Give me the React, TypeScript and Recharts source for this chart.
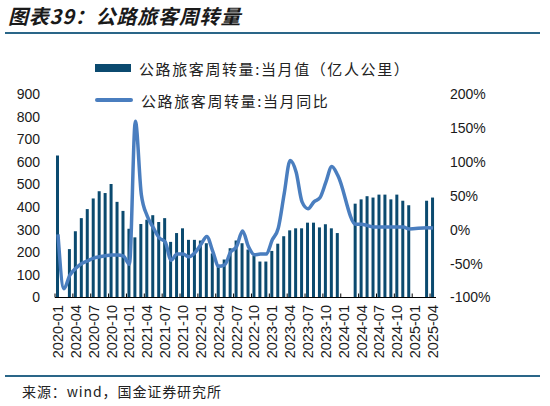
import React from 'react';
import { ComposedChart, Bar, Line, XAxis, YAxis, Legend } from 'recharts';

const months = [
  '2020-01','2020-02','2020-03','2020-04','2020-05','2020-06','2020-07','2020-08','2020-09','2020-10','2020-11','2020-12',
  '2021-01','2021-02','2021-03','2021-04','2021-05','2021-06','2021-07','2021-08','2021-09','2021-10','2021-11','2021-12',
  '2022-01','2022-02','2022-03','2022-04','2022-05','2022-06','2022-07','2022-08','2022-09','2022-10','2022-11','2022-12',
  '2023-01','2023-02','2023-03','2023-04','2023-05','2023-06','2023-07','2023-08','2023-09','2023-10','2023-11','2023-12',
  '2024-01','2024-02','2024-03','2024-04','2024-05','2024-06','2024-07','2024-08','2024-09','2024-10','2024-11','2024-12',
  '2025-01','2025-02','2025-03','2025-04',
];

// 公路旅客周转量:当月值（亿人公里）
const monthlyValue: (number | null)[] = [
  628, null, 214, 293, 351, 391, 438, 470, 462, 502, 423, 383,
  304, 266, 325, 344, 364, 334, 351, 246, 285, 306, 255, 255,
  252, 240, 195, 145, 168, 218, 252, 240, 212, 184, 159, 159,
  206, 238, 271, 297, 306, 306, 331, 331, 310, 324, 306, 285,
  null, null, 415, 434, 448, 442, 455, 455, 434, 455, 428, 408,
  null, null, 428, 442,
];

// 公路旅客周转量:当月同比（%）
const yoyPct: (number | null)[] = [
  -7, -87, -67, -57, -50, -46, -42, -40, -38.5, -37.5, -37.5, -39,
  -51, 160, 52, 20, 3, -12, -18, -45, -36, -36, -40, -34,
  -22, -10, -32, -54, -52, -33, -25, -2, -25, -37, -36, -36,
  -15, 2, 53, 102, 85, 41, 31, 41, 47, 70, 93, 80,
  null, null, 8, 8, 6, 4, 4, 4, 4, 4, 4, 1,
  null, null, 3, 2.5,
];

const leftTicks = [0, 100, 200, 300, 400, 500, 600, 700, 800, 900];
const rightTicks = [-100, -50, 0, 50, 100, 150, 200];

const seriesBarName = '公路旅客周转量:当月值（亿人公里）';
const seriesLineName = '公路旅客周转量:当月同比';
const titleText = '图表39：公路旅客周转量';
const sourceText = '来源：wind，国金证券研究所';

const data = months.map((m, i) => ({ month: m, value: monthlyValue[i], yoy: yoyPct[i] }));

const W = 550;
const H = 406;
const PLOT_LEFT = 55;
const PLOT_RIGHT = 436;
const PLOT_TOP = 94;
const PLOT_BOTTOM = 297.5;
const X_AXIS_H = 70;

const BAR_COLOR = '#0b4a6f';
const LINE_COLOR = '#4a7ebf';
const RULE_COLOR = '#2a6688';
const TEXT_COLOR = '#1a1a1a';
const NUM_FONT = '"Liberation Sans", Arial, sans-serif';
const CJK_FONT = '"Noto Sans CJK SC", "Noto Sans", sans-serif';

const XTick = (props: any) => {
  const { x, payload } = props;
  const band = (PLOT_RIGHT - PLOT_LEFT) / months.length;
  const bx = x - band / 2;
  return (
    <g>
      <line x1={bx} x2={bx} y1={PLOT_BOTTOM} y2={PLOT_BOTTOM - 4} stroke="#000" strokeWidth={1} />
      <text
        transform={`translate(${x + 5},${PLOT_BOTTOM + 7.5}) rotate(-90)`}
        textAnchor="end"
        fontSize={14.5}
        fontFamily={NUM_FONT}
        fill={TEXT_COLOR}
      >
        {payload.value}
      </text>
    </g>
  );
};

const LegendContent = (props: any) => {
  const { payload } = props;
  return (
    <div style={{ position: 'relative', width: 420, height: 50 }}>
      {(payload || []).map((entry: any, i: number) => (
        <div
          key={i}
          style={{
            position: 'absolute',
            left: 0,
            top: i * 32,
            height: 20,
            display: 'flex',
            alignItems: 'center',
            whiteSpace: 'nowrap',
          }}
        >
          {entry.type === 'line' ? (
            <div style={{ width: 38, height: 4, background: entry.color, borderRadius: 2 }} />
          ) : (
            <div style={{ width: 36, height: 8, background: entry.color }} />
          )}
          <span
            style={{
              marginLeft: 8,
              fontSize: 15,
              letterSpacing: 1.6,
              fontFamily: CJK_FONT,
              color: '#222',
            }}
          >
            {entry.value}
          </span>
        </div>
      ))}
    </div>
  );
};

export default function App() {
  return (
    <div style={{ position: 'absolute', left: 0, top: 0, width: W, height: H, background: '#fff', overflow: 'hidden' }}>
      <div
        style={{
          position: 'absolute',
          left: 8,
          top: 3,
          fontSize: 20,
          fontWeight: 700,
          fontStyle: 'italic',
          fontFamily: CJK_FONT,
          color: TEXT_COLOR,
          letterSpacing: 0.8,
          whiteSpace: 'nowrap',
          lineHeight: '26px',
        }}
      >
        {titleText}
      </div>
      <div style={{ position: 'absolute', left: 5, top: 32, width: 535, height: 1.5, background: RULE_COLOR }} />
      <ComposedChart
        width={W}
        height={H}
        data={data}
        margin={{ top: PLOT_TOP, right: 0, left: 0, bottom: H - PLOT_BOTTOM - X_AXIS_H }}
        style={{ fontFamily: NUM_FONT }}
      >
        <XAxis
          dataKey="month"
          interval={2}
          height={X_AXIS_H}
          axisLine={{ stroke: '#000', strokeWidth: 1 }}
          tickLine={false}
          tick={<XTick />}
        />
        <YAxis
          yAxisId="left"
          orientation="left"
          width={PLOT_LEFT}
          domain={[0, 900]}
          ticks={leftTicks}
          interval={0}
          axisLine={false}
          tickLine={false}
          tickSize={0}
          tickMargin={15}
          tick={{ fontSize: 14, fill: TEXT_COLOR, fontFamily: NUM_FONT }}
        />
        <YAxis
          yAxisId="right"
          orientation="right"
          width={W - PLOT_RIGHT}
          domain={[-100, 200]}
          ticks={rightTicks}
          interval={0}
          axisLine={false}
          tickLine={false}
          tickSize={0}
          tickMargin={14}
          tickFormatter={(v: number) => `${v}%`}
          tick={{ fontSize: 14, fill: TEXT_COLOR, fontFamily: NUM_FONT, textAnchor: 'start' }}
        />
        <Legend
          layout="horizontal"
          align="center"
          verticalAlign="middle"
          content={<LegendContent />}
          wrapperStyle={{ left: 95, top: 58, width: 420, height: 50 }}
        />
        <Bar
          yAxisId="left"
          dataKey="value"
          name={seriesBarName}
          fill={BAR_COLOR}
          barSize={3}
          isAnimationActive={false}
        />
        <Line
          yAxisId="right"
          dataKey="yoy"
          name={seriesLineName}
          type="monotone"
          stroke={LINE_COLOR}
          strokeWidth={3.5}
          dot={false}
          activeDot={false}
          connectNulls
          isAnimationActive={false}
        />
      </ComposedChart>
      <div style={{ position: 'absolute', left: 5, top: 375, width: 535, height: 1.5, background: RULE_COLOR }} />
      <div
        style={{
          position: 'absolute',
          left: 22,
          top: 382,
          fontSize: 14,
          letterSpacing: 0.9,
          fontFamily: CJK_FONT,
          color: '#222',
          whiteSpace: 'nowrap',
          lineHeight: '18px',
        }}
      >
        {sourceText}
      </div>
    </div>
  );
}
